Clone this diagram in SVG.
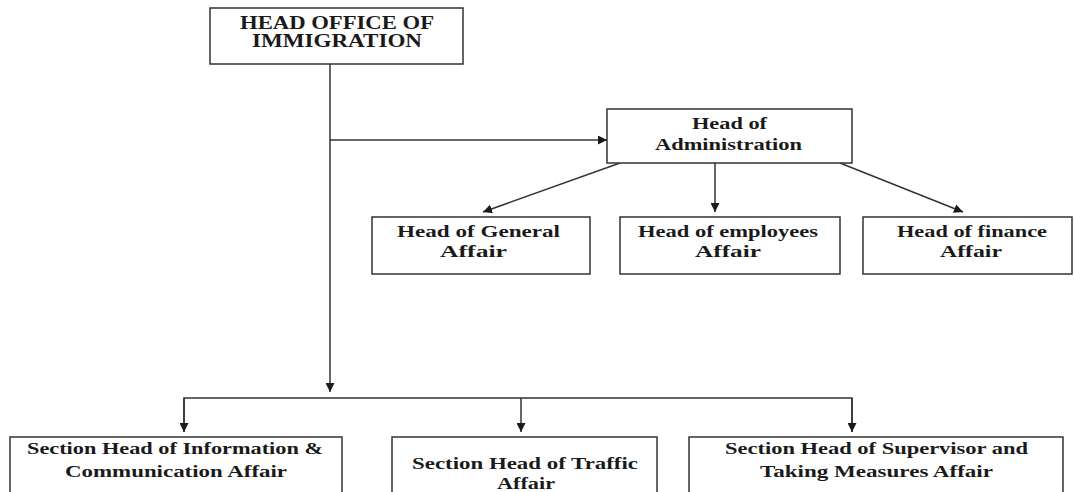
<svg xmlns="http://www.w3.org/2000/svg" width="1074" height="492" viewBox="0 0 1074 492">
<style>
.box{fill:#fff;stroke:#333;stroke-width:1.5}
.t{font-family:"Liberation Serif","Times New Roman",serif;font-weight:bold;fill:#1a1a1a;text-anchor:start}
.ln{fill:none;stroke:#333;stroke-width:1.5}
</style>
<defs>
<marker id="ah" viewBox="0 0 10 10" refX="10" refY="5" markerWidth="9" markerHeight="9" markerUnits="userSpaceOnUse" orient="auto">
<path d="M0,0 L10,5 L0,10 z" fill="#1a1a1a"/>
</marker>
</defs>
<rect width="1074" height="492" fill="#fff"/>
<g id="connectors">
<line class="ln" x1="330" y1="64" x2="330" y2="392" marker-end="url(#ah)"/>
<line class="ln" x1="330" y1="140" x2="607" y2="140" marker-end="url(#ah)"/>
<polyline class="ln" points="184,432 184,398 852,398 852,432"/>
<line class="ln" x1="184" y1="398" x2="184" y2="432" marker-end="url(#ah)"/>
<line class="ln" x1="521" y1="398" x2="521" y2="432" marker-end="url(#ah)"/>
<line class="ln" x1="852" y1="398" x2="852" y2="432" marker-end="url(#ah)"/>
<line class="ln" x1="620" y1="163" x2="483" y2="212" marker-end="url(#ah)"/>
<line class="ln" x1="715" y1="163" x2="715" y2="212" marker-end="url(#ah)"/>
<line class="ln" x1="840" y1="163" x2="963" y2="212" marker-end="url(#ah)"/>
</g>
<g id="head-office">
<rect class="box" x="210" y="8" width="253" height="56"/>
<text class="t" font-size="18" x="240" y="29" textLength="194" lengthAdjust="spacingAndGlyphs">HEAD OFFICE OF</text>
<text class="t" font-size="18" x="252" y="47" textLength="170" lengthAdjust="spacingAndGlyphs">IMMIGRATION</text>
</g>
<g id="administration">
<rect class="box" x="607" y="109" width="245" height="54"/>
<text class="t" font-size="17" x="692" y="129" textLength="75" lengthAdjust="spacingAndGlyphs">Head of</text>
<text class="t" font-size="17" x="655" y="150" textLength="147" lengthAdjust="spacingAndGlyphs">Administration</text>
</g>
<g id="general-affair">
<rect class="box" x="372" y="217" width="218" height="57"/>
<text class="t" font-size="16" x="397" y="237" textLength="163" lengthAdjust="spacingAndGlyphs">Head of General</text>
<text class="t" font-size="16" x="440" y="257" textLength="67" lengthAdjust="spacingAndGlyphs">Affair</text>
</g>
<g id="employees-affair">
<rect class="box" x="620" y="217" width="220" height="57"/>
<text class="t" font-size="16" x="638" y="237" textLength="180" lengthAdjust="spacingAndGlyphs">Head of employees</text>
<text class="t" font-size="16" x="695" y="257" textLength="66" lengthAdjust="spacingAndGlyphs">Affair</text>
</g>
<g id="finance-affair">
<rect class="box" x="863" y="217" width="209" height="57"/>
<text class="t" font-size="16" x="897" y="237" textLength="150" lengthAdjust="spacingAndGlyphs">Head of finance</text>
<text class="t" font-size="16" x="940" y="257" textLength="62" lengthAdjust="spacingAndGlyphs">Affair</text>
</g>
<g id="info-comm-affair">
<rect class="box" x="10" y="437" width="332" height="70"/>
<text class="t" font-size="16" x="27" y="454" textLength="296" lengthAdjust="spacingAndGlyphs">Section Head of Information &amp;</text>
<text class="t" font-size="16" x="65" y="477" textLength="222" lengthAdjust="spacingAndGlyphs">Communication Affair</text>
</g>
<g id="traffic-affair">
<rect class="box" x="392" y="437" width="265" height="70"/>
<text class="t" font-size="16" x="412" y="469" textLength="226" lengthAdjust="spacingAndGlyphs">Section Head of Traffic</text>
<text class="t" font-size="16" x="497" y="489" textLength="58" lengthAdjust="spacingAndGlyphs">Affair</text>
</g>
<g id="supervisor-affair">
<rect class="box" x="689" y="437" width="374" height="70"/>
<text class="t" font-size="16" x="725" y="454" textLength="303" lengthAdjust="spacingAndGlyphs">Section Head of Supervisor and</text>
<text class="t" font-size="16" x="760" y="477" textLength="233" lengthAdjust="spacingAndGlyphs">Taking Measures Affair</text>
</g>
</svg>
